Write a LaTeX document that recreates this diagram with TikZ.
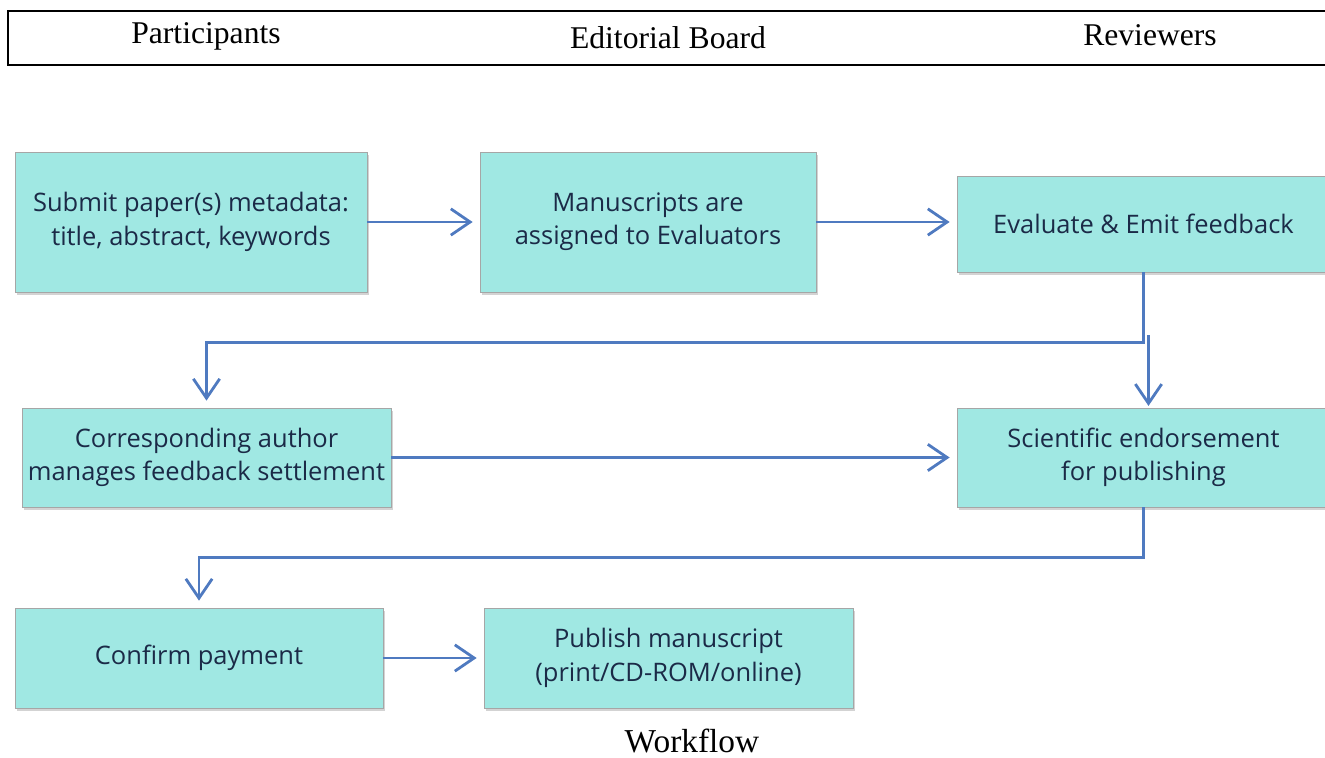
\documentclass[tikz,border=0pt]{standalone}
\usepackage{fontspec}
\setmainfont{Liberation Serif}
\newfontfamily\boxfont{Open Sans}
\usepackage{xcolor}
\usetikzlibrary{arrows.meta,shadows,calc,positioning}
\definecolor{boxfill}{HTML}{A0E8E3}
\definecolor{flowblue}{HTML}{4F7AC0}
\definecolor{boxtext}{HTML}{1B2A47}

\begin{document}
\begin{tikzpicture}[
        stage/.style={draw=gray!70, fill=boxfill, text=boxtext, align=center, inner sep=0pt,
                      font=\boxfont\fontsize{14.5}{19}\selectfont,
                      drop shadow={opacity=0.35, shadow xshift=0.04, shadow yshift=-0.06}},
        flow/.style={draw=flowblue, line width=1.6pt, shorten >=4pt,
                     -{Straight Barb[length=11pt,width=15pt,line width=1.6pt]}},
        lane/.style={font=\fontsize{18}{22}\selectfont}
    ]
            \path[use as bounding box] (0,0) rectangle (26.5,-15.16);

            \draw[line width=1.1pt] (0.16,-0.22) rectangle (26.8,-1.3);
            \node[lane] (participants) at (4.12,-0.72) {Participants};
            \node[lane] (board) at (13.36,-0.76) {Editorial Board};
            \node[lane] (reviewers) at (23.0,-0.7) {Reviewers};

            \node[stage, minimum width=7.04cm, minimum height=2.8cm] (submit) at (3.82,-4.44)
                {Submit paper(s) metadata:\\title, abstract, keywords};
            \node[stage, minimum width=6.72cm, minimum height=2.8cm] (assign) at (12.96,-4.44)
                {Manuscripts are\\assigned to Evaluators};
            \node[stage, minimum width=7.46cm, minimum height=1.92cm] (evaluate) at (22.87,-4.48)
                {Evaluate \& Emit feedback};
            \node[stage, minimum width=7.38cm, minimum height=1.98cm] (author) at (4.13,-9.15)
                {Corresponding author\\manages feedback settlement};
            \node[stage, minimum width=7.46cm, minimum height=1.98cm] (endorse) at (22.87,-9.15)
                {Scientific endorsement\\for publishing};
            \node[stage, minimum width=7.36cm, minimum height=2.0cm] (payment) at (3.98,-13.16)
                {Confirm payment};
            \node[stage, minimum width=7.38cm, minimum height=2.0cm] (publish) at (13.37,-13.16)
                {Publish manuscript\\(print/CD-ROM/online)};

            \draw[flow] (submit.east) -- (assign.west);
            \draw[flow] (assign.east) -- (assign.east -| evaluate.west);
            \draw[flow] (evaluate.south) -- ++(0,-1.4) -| (author.north);
            \draw[flow, shorten >=1pt] ($(endorse.north)+(0.1,1.45)$) -- ($(endorse.north)+(0.1,0)$);
            \draw[flow] (author.east) -- (endorse.west);
            \draw[flow] (endorse.south) -- ++(0,-1.0) -| (payment.north);
            \draw[flow] (payment.east) -- (publish.west);

            \node[font=\fontsize{19}{22}\selectfont] (caption) at (13.84,-14.82) {Workflow};
        \end{tikzpicture}
\end{document}
